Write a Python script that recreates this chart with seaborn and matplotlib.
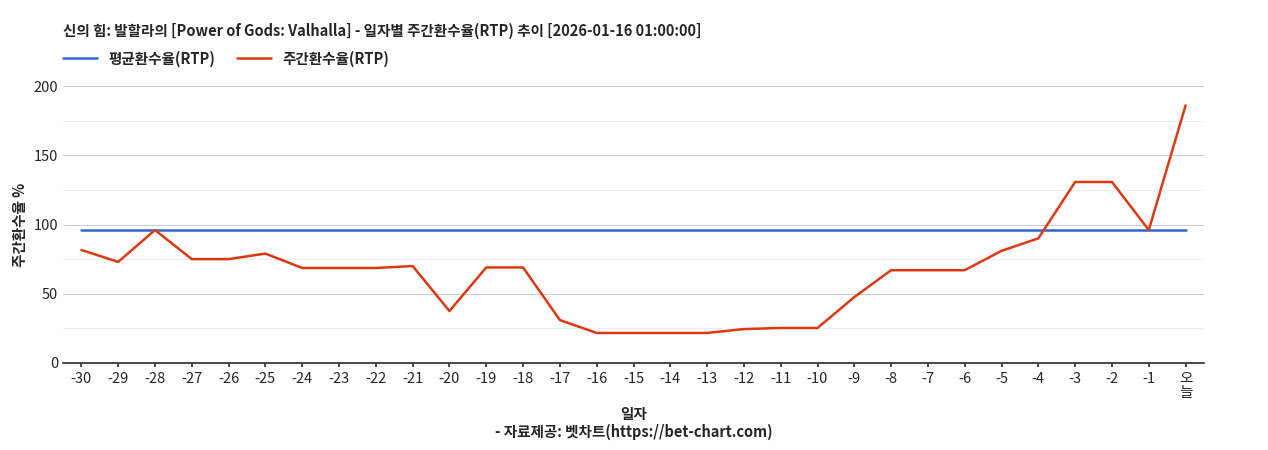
import matplotlib
matplotlib.use("Agg")
import matplotlib.pyplot as plt
import seaborn as sns
import pandas as pd

days = [str(i) for i in range(-30, 0)] + ["오\n늘"]
weekly_rtp = [81.6, 73, 96, 75, 75, 79, 68.6, 68.6, 68.6, 70, 37.5, 69, 69, 31, 21.7, 21.7, 21.7, 21.7,
              24.5, 25.3, 25.3, 47.6, 67, 67, 67, 81, 90, 130.7, 130.7, 96, 186]
avg_rtp = [96] * len(days)

sns.set_theme(style="white")
plt.rcParams['font.family'] = ['Noto Sans CJK KR', 'DejaVu Sans']

df = pd.DataFrame({"x": range(len(days)), "avg": avg_rtp, "wk": weekly_rtp})
fig = plt.figure(figsize=(12.68, 4.5), dpi=100)
ax = fig.add_axes([63/1268, 1-363/450, (1204-63)/1268, (363-86)/450])
for v in [25, 75, 125, 175]:
    ax.axhline(v, color="#eeeeee", lw=0.8, zorder=0)
for v in [50, 100, 150, 200]:
    ax.axhline(v, color="#cccccc", lw=0.8, zorder=0)
sns.lineplot(data=df, x="x", y="avg", ax=ax, color="#3366cc", lw=1.8, label="평균환수율(RTP)")
sns.lineplot(data=df, x="x", y="wk", ax=ax, color="#dc3912", lw=1.8, label="주간환수율(RTP)")
ax.set_xlim(-0.5, len(days) - 0.5)
ax.set_ylim(0, 200)
ax.set_yticks([0, 50, 100, 150, 200])
ax.set_xticks(range(len(days)))
ax.set_xticklabels(days, fontsize=10.5, rotation=0, linespacing=1.0)
ax.tick_params(axis='y', labelsize=10.5, length=0)
ax.tick_params(axis='x', length=3, bottom=True, color="#333333")
for s in ["top", "right", "left"]:
    ax.spines[s].set_visible(False)
ax.spines["bottom"].set_color("#333333")
ax.set_ylabel("주간환수율 %", fontsize=10.5, fontweight="bold")
ax.set_xlabel("일자\n- 자료제공: 벳차트(https://bet-chart.com)", fontsize=10.5, fontweight="bold")
ax.legend(loc="lower left", bbox_to_anchor=(0.0, 1.07), ncol=2, frameon=False,
          prop={"weight": "bold", "size": 10.5}, handlelength=2.3, handletextpad=0.8,
          columnspacing=1.5, borderaxespad=0, borderpad=0)
fig.text(63/1268, 1-31/450, "신의 힘: 발할라의 [Power of Gods: Valhalla] - 일자별 주간환수율(RTP) 추이 [2026-01-16 01:00:00]",
         fontsize=10.5, fontweight="bold", va="center")
fig.savefig("out.png", dpi=100)
